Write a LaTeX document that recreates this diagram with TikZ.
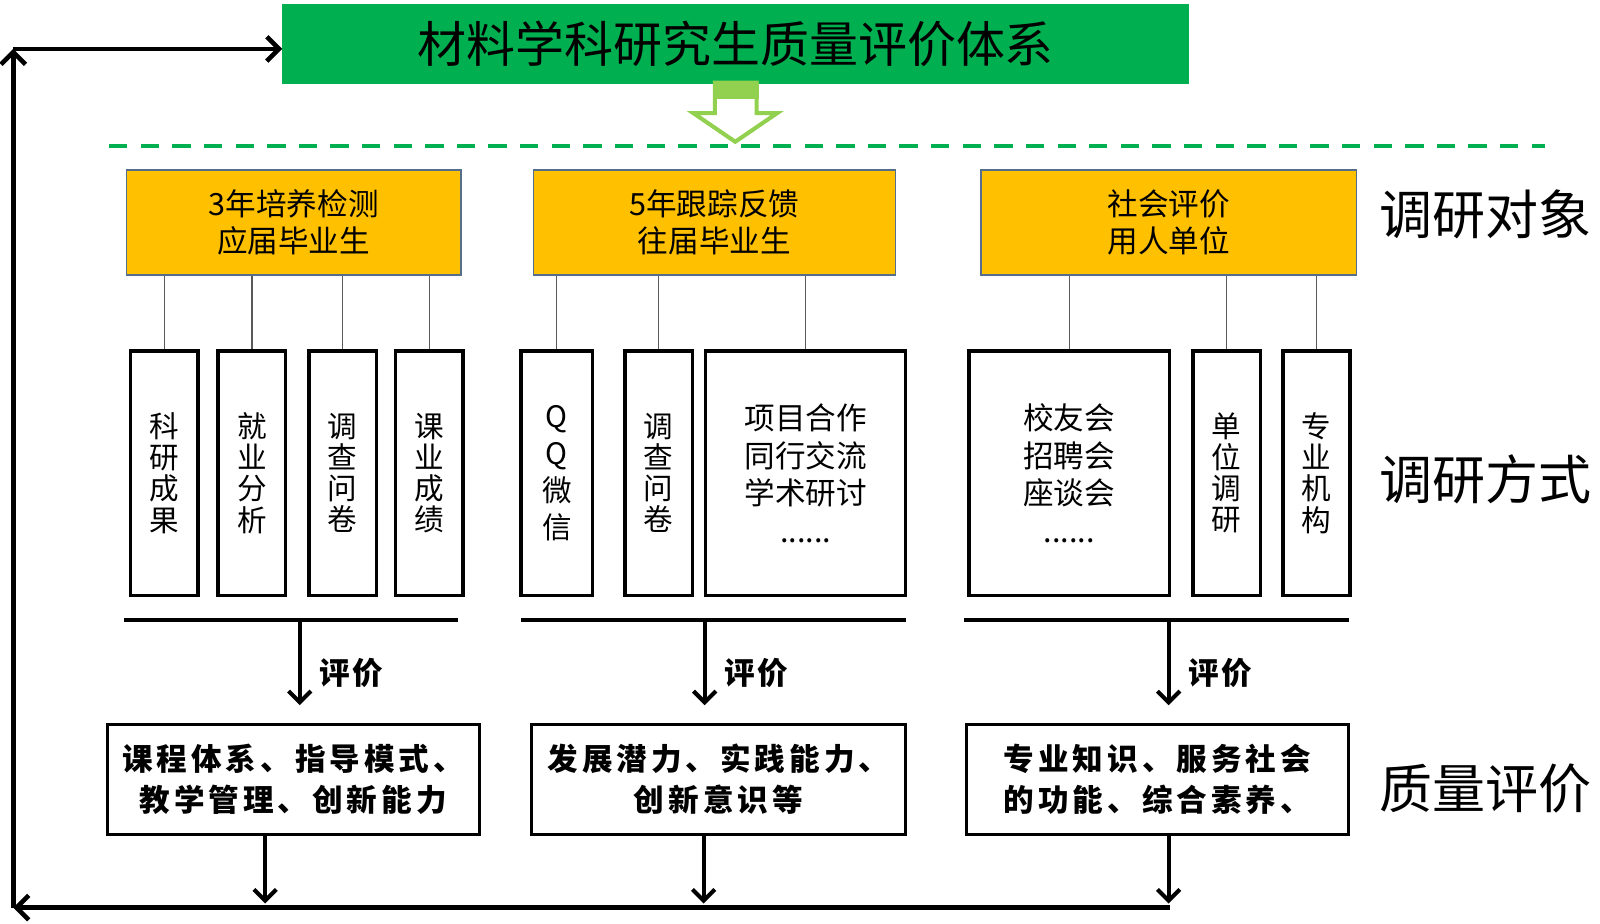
\documentclass[tikz,border=0pt]{standalone}
\usepackage{fontspec}
\setmainfont{Noto Sans CJK SC}
\usetikzlibrary{arrows.meta, positioning}
\definecolor{titlegreen}{RGB}{0,176,80}
\definecolor{arrowgreen}{RGB}{146,208,80}
\definecolor{boxorange}{RGB}{255,192,0}
\definecolor{orangeedge}{RGB}{84,110,140}
\definecolor{linkgray}{RGB}{90,90,90}

\tikzset{
  headbox/.style={fill=titlegreen, inner sep=0pt, minimum width=889pt, minimum height=78pt, font=\fontsize{48}{48}\selectfont},
  target/.style={draw=orangeedge, line width=1.5pt, fill=boxorange, inner sep=0pt, minimum height=103pt, align=center, font=\fontsize{30}{37}\selectfont},
  method/.style={draw=black, line width=3.5pt, fill=white, inner sep=0pt, minimum height=240pt, align=center, font=\fontsize{29}{30.5}\selectfont},
  quality/.style={draw=black, line width=3pt, inner sep=0pt, minimum height=108pt, align=center, font=\fontsize{30}{40}\selectfont\bfseries\addfontfeature{LetterSpace=13}},
  sidelabel/.style={font=\fontsize{52}{52}\selectfont},
  evallabel/.style={font=\fontsize{30}{30}\selectfont\bfseries\addfontfeature{LetterSpace=8}},
  link/.style={draw=linkgray, line width=1.3pt},
  rule/.style={line width=3.5pt},
  flow/.style={line width=4pt, -{Straight Barb[length=11pt,width=22pt]}},
  loop/.style={line width=4.5pt, -{Straight Barb[length=12pt,width=24pt]}}
}

\begin{document}
\begin{tikzpicture}[x=1pt, y=-1pt]
  \useasboundingbox (0,0) rectangle (1569,906);

  % Title and hollow arrow
  \node[headbox] (title) at (721.5,43) {材料学科研究生质量评价体系};
  \draw[titlegreen, line width=4pt, dash pattern=on 18pt off 13pt] (107,143) -- (1515,143);
  \draw[arrowgreen, line width=4pt, fill=white, line join=miter]
    (701,81) -- (701,111) -- (680,111) -- (721,139) -- (762,111) -- (742,111) -- (742,81) -- cycle;
  \fill[arrowgreen] (699,81) rectangle (744,97);

  % Survey targets
  \node[target, minimum width=328pt] (obj3y) at (288,218) {3年培养检测\\应届毕业生};
  \node[target, minimum width=355pt] (obj5y) at (700.5,218) {5年跟踪反馈\\往届毕业生};
  \node[target, minimum width=368pt] (objsoc) at (1146,218) {社会评价\\用人单位};

  % Survey methods
  \node[method, minimum width=66pt] (kycg) at (161,464) {科\\研\\成\\果};
  \node[method, minimum width=66pt] (jyfx) at (247,464) {就\\业\\分\\析};
  \node[method, minimum width=66pt] (dcwj) at (336,464) {调\\查\\问\\卷};
  \node[method, minimum width=66pt] (kycj) at (421,464) {课\\业\\成\\绩};

  \node[method, minimum width=70pt, font=\fontsize{29}{36.5}\selectfont] (qqwx) at (546,464) {Q\\Q\\微\\信};
  \node[method, minimum width=66pt] (dcwjb) at (646,464) {调\\查\\问\\卷};
  \node[method, minimum width=196pt, font=\fontsize{30}{37}\selectfont] (xmhz) at (790,464) {项目合作\\同行交流\\学术研讨\\......};

  \node[method, minimum width=197pt, font=\fontsize{30}{37}\selectfont] (xyh) at (1048.5,464) {校友会\\招聘会\\座谈会\\......};
  \node[method, minimum width=66pt] (dwdy) at (1203,464) {单\\位\\调\\研};
  \node[method, minimum width=66pt] (zyjg) at (1291,464) {专\\业\\机\\构};

  \foreach \m in {kycg,jyfx,dcwj,kycj}
    \draw[link] (\m.north) -- (\m.north |- obj3y.south);
  \foreach \m in {qqwx,dcwjb,xmhz}
    \draw[link] (\m.north) -- (\m.north |- obj5y.south);
  \foreach \m in {xyh,dwdy,zyjg}
    \draw[link] (\m.north) -- (\m.north |- objsoc.south);

  % Quality evaluation
  \node[quality, minimum width=365pt] (qual1) at (287.5,764) {课程体系、指导模式、\\教学管理、创新能力};
  \node[quality, minimum width=367pt] (qual2) at (704.5,764) {发展潜力、实践能力、\\创新意识等};
  \node[quality, minimum width=374pt] (qual3) at (1135,764) {专业知识、服务社会\\的功能、综合素养、};

  \draw[rule] (122,608) -- (449,608);
  \draw[rule] (511,608) -- (888,608);
  \draw[rule] (945,608) -- (1323,608);
  \coordinate (dv1) at (294,608);
  \coordinate (dv2) at (691,608);
  \coordinate (dv3) at (1146,608);
  \draw[flow, shorten >=17pt] (dv1) -- (dv1 |- qual1.north) node[evallabel, pos=.52, right=14pt] (ev1) {评价};
  \draw[flow, shorten >=17pt] (dv2) -- (dv2 |- qual2.north) node[evallabel, pos=.52, right=14pt] (ev2) {评价};
  \draw[flow, shorten >=17pt] (dv3) -- (dv3 |- qual3.north) node[evallabel, pos=.52, right=14pt] (ev3) {评价};

  % Feedback loop
  \coordinate (bt1) at (260,886);
  \coordinate (bt2) at (690,886);
  \coordinate (bt3) at (1146,886);
  \draw[flow] (qual1.south -| bt1) -- (bt1);
  \draw[flow] (qual2.south -| bt2) -- (bt2);
  \draw[flow] (qual3.south -| bt3) -- (bt3);
  \coordinate (loopR) at (1147,890);
  \coordinate (loopBL) at (13,890);
  \coordinate (loopTL) at (13,48);
  \draw[loop] (loopR) -- (loopBL);
  \draw[loop] (loopBL) -- (loopTL);
  \draw[loop] (loopTL) -- (title.west |- loopTL);

  % Side labels
  \node[sidelabel] (lblobj) at (1457,210) {调研对象};
  \node[sidelabel] (lblway) at (1457,470) {调研方式};
  \node[sidelabel] (lblqual) at (1457,773) {质量评价};
\end{tikzpicture}
\end{document}
